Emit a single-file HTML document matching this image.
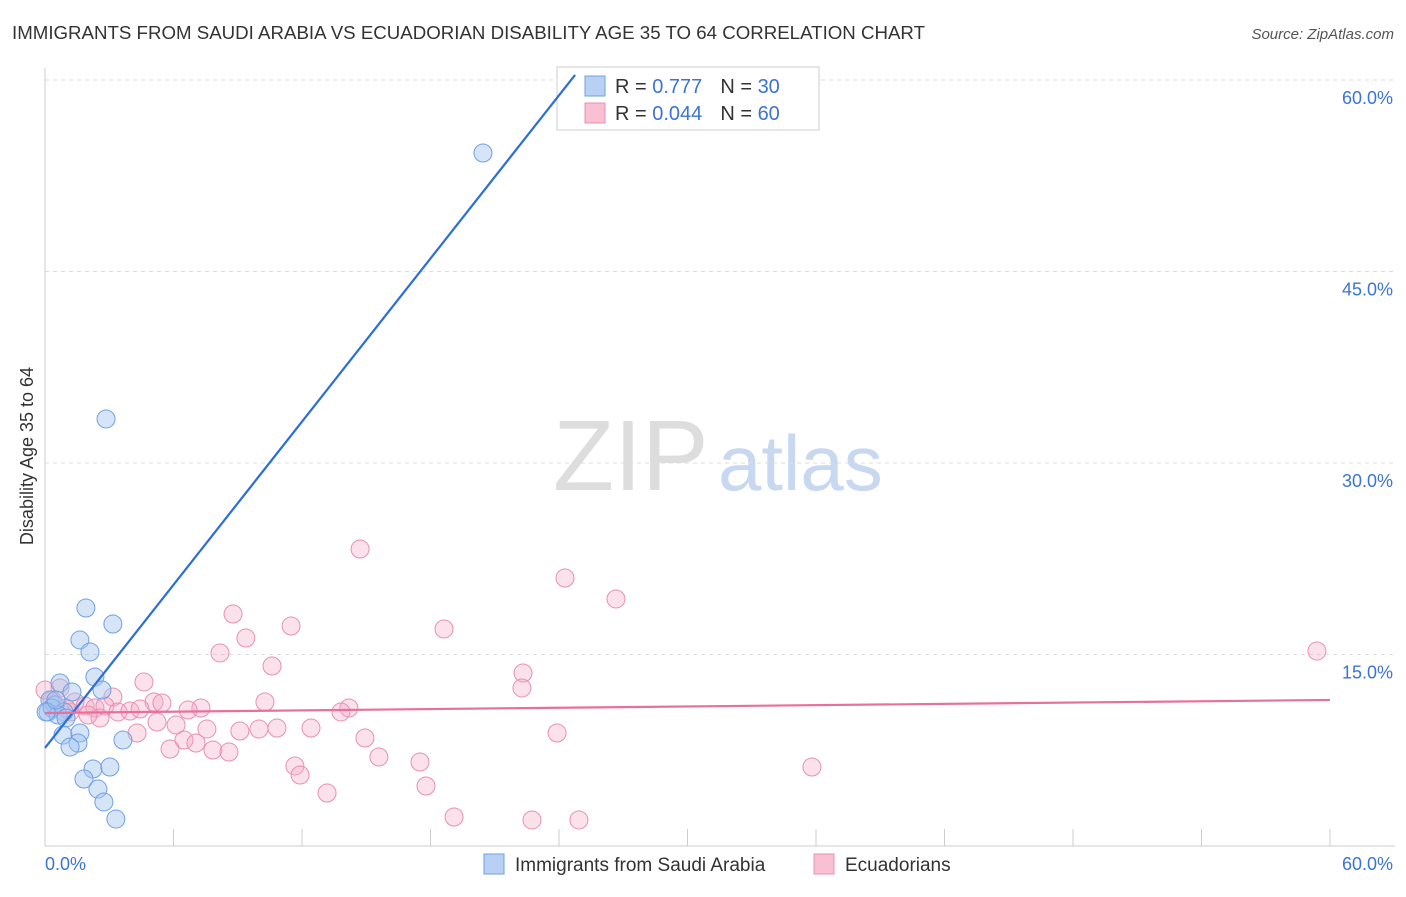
<!DOCTYPE html>
<html><head><meta charset="utf-8"><style>
body{margin:0;background:#fff;font-family:"Liberation Sans",sans-serif}
svg text{font-family:"Liberation Sans",sans-serif}
</style></head><body>
<svg id="c" width="1406" height="892">
<text x="12" y="39" font-size="18" fill="#333" textLength="913" lengthAdjust="spacingAndGlyphs">IMMIGRANTS FROM SAUDI ARABIA VS ECUADORIAN DISABILITY AGE 35 TO 64 CORRELATION CHART</text>
<text x="1394" y="39" font-size="15" fill="#555" font-style="italic" text-anchor="end">Source: ZipAtlas.com</text>
<g>
<text x="553" y="490" font-size="100" font-family="Liberation Serif,serif" fill="#ddd">ZIP</text>
<text x="718" y="490" font-size="78" fill="#c8d8f0">atlas</text>
</g>
<g id="grid"></g><g id="axes"></g><g id="pts"></g>
<text transform="translate(33,456) rotate(-90)" font-size="18" fill="#333" text-anchor="middle">Disability Age 35 to 64</text>
<g>
<rect x="557" y="67" width="262" height="63" fill="#fff" stroke="#ccc"/>
<rect x="585" y="76" width="20" height="20" fill="#b8d0f4" stroke="#6fa0e0"/>
<rect x="585" y="103" width="20" height="20" fill="#f8c0d2" stroke="#e890b0"/>
<text x="615" y="93" font-size="20" fill="#333">R = <tspan fill="#3b74d4">0.777</tspan><tspan dx="18">N = </tspan><tspan fill="#3b74d4">30</tspan></text>
<text x="615" y="120" font-size="20" fill="#333">R = <tspan fill="#3b74d4">0.044</tspan><tspan dx="18">N = </tspan><tspan fill="#3b74d4">60</tspan></text>
</g>
<g id="lines"></g>
<g>
<rect x="484" y="854" width="20" height="20" fill="#b8d0f4" stroke="#6fa0e0"/>
<text x="515" y="871" font-size="19" fill="#333">Immigrants from Saudi Arabia</text>
<rect x="814" y="854" width="20" height="20" fill="#f8c0d2" stroke="#e890b0"/>
<text x="845" y="871" font-size="19" fill="#333">Ecuadorians</text>
</g>
</svg>
<script>
const yTicks=[15,30,45,60];
const yTickLabels=["15.0%","30.0%","45.0%","60.0%"];
const xTickLabels=["0.0%","60.0%"];
const blueX=[20.45,2.85,1.91,3.17,1.63,2.10,2.33,0.70,1.26,2.66,0.23,0.47,0.14,0.33,0.89,0.61,0.98,0.84,1.63,3.64,1.54,1.17,2.24,3.03,1.82,2.47,2.75,3.31,0.05,0.51];
const blueY=[54.28,33.45,18.64,17.39,16.14,15.20,13.24,12.77,12.06,12.22,11.44,11.04,10.50,10.81,10.50,10.26,10.03,8.69,8.85,8.30,8.07,7.75,6.03,6.19,5.25,4.46,3.45,2.11,10.5,11.44];
const pinkX=[59.39,14.71,24.28,26.66,8.78,11.49,18.63,9.38,8.17,10.60,4.62,22.32,22.27,3.17,10.27,5.09,5.46,7.28,6.68,14.19,13.82,0.70,0.33,1.40,1.87,2.33,2.80,3.41,3.97,4.44,1.17,5.23,6.12,7.56,9.10,9.99,10.83,12.42,4.30,23.91,6.49,7.05,5.84,7.84,8.59,14.94,15.59,17.51,11.67,11.91,17.79,13.17,35.81,19.10,22.74,24.93,2.57,2.01,0.98,0.0];
const pinkY=[15.27,23.26,20.99,19.35,18.17,17.23,17.0,16.29,15.12,14.10,12.85,13.55,12.38,11.67,11.28,11.28,11.20,10.81,10.65,10.81,10.50,12.38,11.44,11.28,10.97,10.81,10.97,10.50,10.57,10.73,10.50,9.71,9.48,9.16,9.01,9.16,9.24,9.24,8.85,8.85,8.30,8.07,7.60,7.52,7.36,8.46,6.97,6.58,6.27,5.56,4.70,4.15,6.19,2.27,2.04,2.04,10.03,10.26,10.81,12.22];
const blueLine=[7.68,2.13,24.75];
const pinkLine=[10.42,0.017,60];
const NS="http://www.w3.org/2000/svg";
const X=v=>45+v/60*1285, Y=v=>846-v/15*191.5;
function mk(p,t,a){const e=document.createElementNS(NS,t);for(const k in a)e.setAttribute(k,a[k]);document.getElementById(p).appendChild(e);return e;}
yTicks.forEach((t,i)=>{
 const g=mk('grid','line',{x1:45,x2:1395,y1:Y(t),y2:Y(t),stroke:'#ddd','stroke-dasharray':'4,4'});
 
 
 const l=mk('grid','text',{x:1393,y:Y(t)+24,'font-size':18,fill:'#3b74d4','text-anchor':'end'});
 l.textContent=yTickLabels[i];
 
 
});
const ax=mk('axes','line',{x1:45,x2:45,y1:68,y2:846,stroke:'#ccc'});


const bx=mk('axes','line',{x1:45,x2:1395,y1:846,y2:846,stroke:'#ccc'});


for(let i=0;i<=10;i++){const t=mk('axes','line',{x1:X(i*6),x2:X(i*6),y1:829,y2:846,stroke:'#ccc'});
 
 }
[[0,'start',45],[60,'end',1393]].forEach((d,i)=>{const t=mk('axes','text',{x:d[2],y:870,'font-size':18,fill:'#3b74d4','text-anchor':d[1]});t.textContent=xTickLabels[i];
 
 });
pinkX.forEach((v,i)=>{const c=mk('pts','circle',{cx:X(v),cy:Y(pinkY[i]),r:9,fill:'rgba(244,170,195,0.35)',stroke:'#e890b0','stroke-width':1});
 
 });
blueX.forEach((v,i)=>{const c=mk('pts','circle',{cx:X(v),cy:Y(blueY[i]),r:9,fill:'rgba(164,196,240,0.45)',stroke:'#6fa0e0','stroke-width':1});
 
 });
const b=mk('lines','line',{x1:X(0),y1:Y(blueLine[0]),x2:X(blueLine[2]),y2:Y(blueLine[0]+blueLine[1]*blueLine[2]),stroke:'#2b6fd6','stroke-width':2.2});


const p=mk('lines','line',{x1:X(0),y1:Y(pinkLine[0]),x2:X(pinkLine[2]),y2:Y(pinkLine[0]+pinkLine[1]*pinkLine[2]),stroke:'#e8709a','stroke-width':2.2});


</script>
</body></html>
